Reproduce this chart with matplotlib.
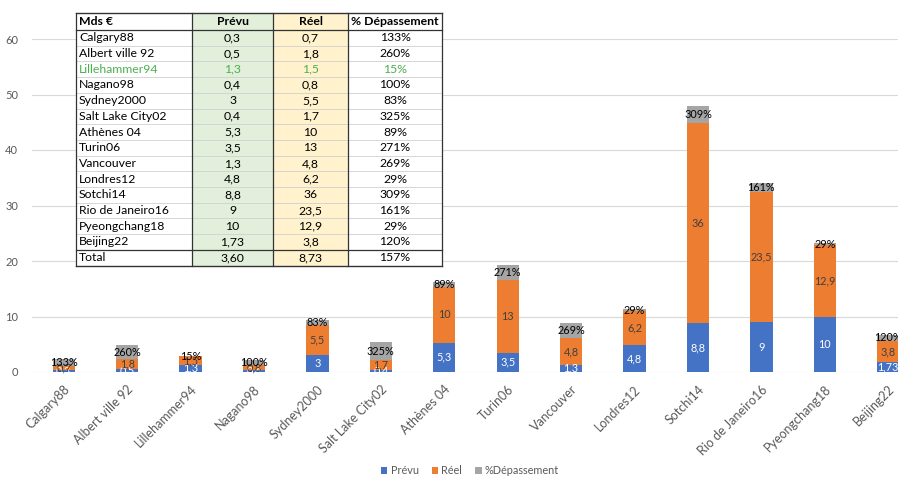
import matplotlib
matplotlib.use("Agg")
import matplotlib.pyplot as plt
from matplotlib.patches import Rectangle
from matplotlib.lines import Line2D

# ---------------- data ----------------
games = ["Calgary88", "Albert ville 92", "Lillehammer94", "Nagano98", "Sydney2000",
         "Salt Lake City02", "Athènes 04", "Turin06", "Vancouver", "Londres12",
         "Sotchi14", "Rio de Janeiro16", "Pyeongchang18", "Beijing22"]
prevu = [0.3, 0.5, 1.3, 0.4, 3, 0.4, 5.3, 3.5, 1.3, 4.8, 8.8, 9, 10, 1.73]
reel = [0.7, 1.8, 1.5, 0.8, 5.5, 1.7, 10, 13, 4.8, 6.2, 36, 23.5, 12.9, 3.8]
depassement_pct = [133, 260, 15, 100, 83, 325, 89, 271, 269, 29, 309, 161, 29, 120]
total_row = ["Total", "3,60", "8,73", "157%"]
table_header = ["Mds €", "Prévu", "Réel", "% Dépassement"]
highlight_row = "Lillehammer94"
yticks = [0, 10, 20, 30, 40, 50, 60]

# ---------------- style ----------------
FONT = ["Lato", "DejaVu Sans"]
plt.rcParams["font.family"] = FONT
C_BLUE = "#4472C4"
C_ORANGE = "#ED7D31"
C_GRAY = "#A5A5A5"
TXT = "#595959"

W, H = 898, 478
fig = plt.figure(figsize=(W / 100, H / 100), dpi=100)

def fx(x):
    return x / W

def fy(y):
    return 1 - y / H

ax_l, ax_r, ax_t, ax_b = 32, 920, 39, 372
ax = fig.add_axes([fx(ax_l), fy(ax_b), (ax_r - ax_l) / W, (ax_b - ax_t) / H])

n = len(games)
x = list(range(n))
pct_vals = [p / 100 for p in depassement_pct]
bottom2 = [a + b for a, b in zip(prevu, reel)]
bw = 0.35

b1 = ax.bar(x, prevu, bw, color=C_BLUE, label="Prévu", zorder=3)
b2 = ax.bar(x, reel, bw, bottom=prevu, color=C_ORANGE, label="Réel", zorder=3)
b3 = ax.bar(x, pct_vals, bw, bottom=bottom2, color=C_GRAY, label="%Dépassement", zorder=3)

def fmt(v):
    return f"{v:g}".replace(".", ",")

for i in range(n):
    ax.text(i, prevu[i] / 2, fmt(prevu[i]), ha="center", va="center",
            fontsize=7.8, color="white", zorder=4)
    ax.text(i, prevu[i] + reel[i] / 2, fmt(reel[i]), ha="center", va="center",
            fontsize=7.8, color="#404040", zorder=4)
    ax.text(i, bottom2[i] + pct_vals[i] / 2, f"{depassement_pct[i]}%", ha="center",
            va="center", fontsize=7.8, color="black", zorder=4)

ax.set_xlim(-0.5, n - 0.5)
ax.set_ylim(0, 60)
ax.set_yticks(yticks)
ax.yaxis.grid(True, color="#D9D9D9", linewidth=0.8, zorder=0)
ax.set_axisbelow(True)
for s in ax.spines.values():
    s.set_visible(False)
ax.tick_params(axis="both", length=0, colors=TXT, labelsize=8)
ax.tick_params(axis="y", pad=10)
ax.set_xticks(x)
ax.set_xticklabels(games, rotation=45, ha="right", rotation_mode="anchor",
                   fontsize=9, color=TXT)
ax.tick_params(axis="x", pad=8)

fig.legend(handles=[b1, b2, b3], labels=["Prévu", "Réel", "%Dépassement"],
           loc="lower center", bbox_to_anchor=(fx(470), -0.016), ncol=3, frameon=False,
           handlelength=0.6, handleheight=0.6, handletextpad=0.3, columnspacing=1.2,
           fontsize=7.8, labelcolor=TXT)

# ---------------- table ----------------
cols = [76, 192, 273, 348, 442]
top = 13
head_h = 17
row_h = 15.7
col_bg = [None, "#E2EFDA", "#FFF2CC", None]
rows = [[g, fmt(p), fmt(r), f"{d}%"] for g, p, r, d in zip(games, prevu, reel, depassement_pct)]
rows.append(total_row)

y_edges = [top, top + head_h] + [top + head_h + (k + 1) * row_h for k in range(len(rows))]
tab_bottom = y_edges[-1]

def rect(x0, y0, x1, y1, fc, ec="none", lw=0, z=10):
    fig.patches.append(Rectangle((fx(x0), fy(y1)), (x1 - x0) / W, (y1 - y0) / H,
                                 transform=fig.transFigure, facecolor=fc, edgecolor=ec,
                                 linewidth=lw, zorder=z))

def line(x0, y0, x1, y1, color, lw, z=12):
    fig.lines.append(Line2D([fx(x0), fx(x1)], [fy(y0), fy(y1)], transform=fig.transFigure,
                            color=color, linewidth=lw, zorder=z))

# backgrounds
for c in range(4):
    rect(cols[c], top, cols[c + 1], tab_bottom, col_bg[c] or "white")

# light row lines
for ye in y_edges[2:-2]:
    line(cols[0], ye, cols[-1], ye, "#D0D0D0", 0.6)
# dark lines
DARK = "#333333"
line(cols[0], top, cols[-1], top, DARK, 1.0)
line(cols[0], y_edges[1], cols[-1], y_edges[1], DARK, 0.9)
line(cols[0], y_edges[-2], cols[-1], y_edges[-2], DARK, 0.9)
line(cols[0], tab_bottom, cols[-1], tab_bottom, DARK, 1.0)
for c in cols:
    line(c, top, c, tab_bottom, DARK, 0.9)

# texts
def cell_text(c, yc, s, bold=False, color="black"):
    if c == 0:
        fig.text(fx(cols[0] + 3), fy(yc), s, ha="left", va="center", fontsize=8.8,
                 color=color, fontweight="bold" if bold else "normal", zorder=15)
    else:
        fig.text(fx((cols[c] + cols[c + 1]) / 2), fy(yc), s, ha="center", va="center",
                 fontsize=8.8, color=color, fontweight="bold" if bold else "normal", zorder=15)

for c in range(4):
    cell_text(c, (y_edges[0] + y_edges[1]) / 2, table_header[c], bold=True)
for r, row in enumerate(rows):
    yc = (y_edges[r + 1] + y_edges[r + 2]) / 2
    color = "#4CAF50" if row[0] == highlight_row else "black"
    for c in range(4):
        cell_text(c, yc, row[c], color=color)

fig.savefig("out.png", dpi=100)
